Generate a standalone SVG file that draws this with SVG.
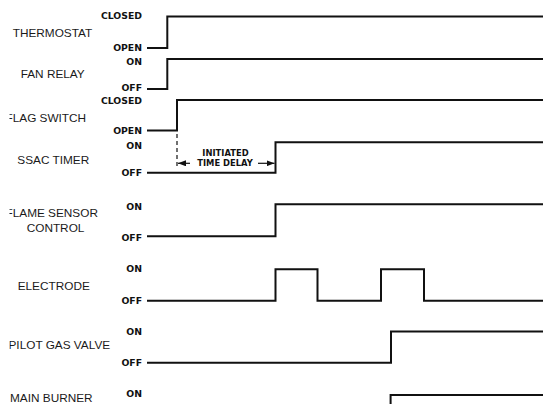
<svg xmlns="http://www.w3.org/2000/svg" width="543" height="404" viewBox="0 0 543 404">
<defs>
<style>
.lbl{font-family:"Liberation Sans",Arial,sans-serif;font-size:11.8px;fill:#1a1a1a}
.st{font-family:"DejaVu Sans","Liberation Sans",sans-serif;font-weight:bold;font-size:9.3px;fill:#111;text-anchor:end}
.an{font-family:"DejaVu Sans","Liberation Sans",sans-serif;font-weight:bold;font-size:8.4px;fill:#111;text-anchor:middle}
.w{fill:none;stroke:#111;stroke-width:2;stroke-linejoin:miter}
.thin{fill:none;stroke:#111;stroke-width:1.2}
</style>
<clipPath id="lc"><rect x="9.5" y="0" width="140" height="404"/></clipPath>
<marker id="ah" viewBox="0 0 8 6" refX="8" refY="3" markerWidth="8" markerHeight="6" markerUnits="userSpaceOnUse" orient="auto"><path d="M0,0 L8,3 L0,6 Z" fill="#111"/></marker>
</defs>
<rect width="543" height="404" fill="#fff"/>
<g clip-path="url(#lc)">
<g id="thermostat">
<text class="lbl" x="12.7" y="37.3">THERMOSTAT</text>
</g>
<g id="fan-relay">
<text class="lbl" x="20.7" y="78.3">FAN RELAY</text>
</g>
<g id="flag-switch">
<text class="lbl" x="5.5" y="121.7">FLAG SWITCH</text>
</g>
<g id="ssac-timer">
<text class="lbl" x="17.3" y="164.3">SSAC TIMER</text>
</g>
<g id="flame-sensor">
<text class="lbl" x="5.5" y="217.3">FLAME SENSOR</text>
<text class="lbl" x="26.7" y="231.7">CONTROL</text>
</g>
<g id="electrode">
<text class="lbl" x="17.7" y="290">ELECTRODE</text>
</g>
<g id="pilot-gas-valve">
<text class="lbl" x="8.5" y="349.3">PILOT GAS VALVE</text>
</g>
<g id="main-burner">
<text class="lbl" x="10" y="401.7">MAIN BURNER</text>
</g>
</g>
<g id="states">
<text class="st" x="142" y="18.5">CLOSED</text>
<text class="st" x="142" y="51">OPEN</text>
<text class="st" x="142" y="64.5">ON</text>
<text class="st" x="142" y="90.5">OFF</text>
<text class="st" x="142" y="104">CLOSED</text>
<text class="st" x="142" y="133.5">OPEN</text>
<text class="st" x="142" y="148.5">ON</text>
<text class="st" x="142" y="176">OFF</text>
<text class="st" x="142" y="210">ON</text>
<text class="st" x="142" y="240.7">OFF</text>
<text class="st" x="142" y="272.3">ON</text>
<text class="st" x="142" y="304">OFF</text>
<text class="st" x="142" y="335.3">ON</text>
<text class="st" x="142" y="366">OFF</text>
<text class="st" x="142" y="397">ON</text>
</g>
<g id="connectors">
<path class="w" d="M147,48 H167.3 V16.5 H543"/>
<path class="w" d="M147,89 H167.3 V59 H543"/>
<path class="w" d="M147,130.5 H177 V100 H543"/>
<path class="w" d="M147,172.7 H275.5 V142.2 H543"/>
<path class="w" d="M147,236.3 H275.5 V204.2 H543"/>
<path class="w" d="M147,300.8 H275.5 V269.3 H317.5 V300.8 H381 V269.3 H424 V300.8 H543"/>
<path class="w" d="M147,362.8 H391 V331.6 H543"/>
<path class="w" d="M390.6,405 V395 H543"/>
</g>
<g id="time-delay">
<line class="thin" x1="177" y1="134" x2="177" y2="168" stroke-dasharray="4 3"/>
<line class="thin" x1="190" y1="163.3" x2="178" y2="163.3" marker-end="url(#ah)"/>
<line class="thin" x1="258" y1="163.3" x2="274.5" y2="163.3" marker-end="url(#ah)"/>
<text class="an" x="225.5" y="155.7">INITIATED</text>
<text class="an" x="225" y="166">TIME DELAY</text>
</g>
</svg>
